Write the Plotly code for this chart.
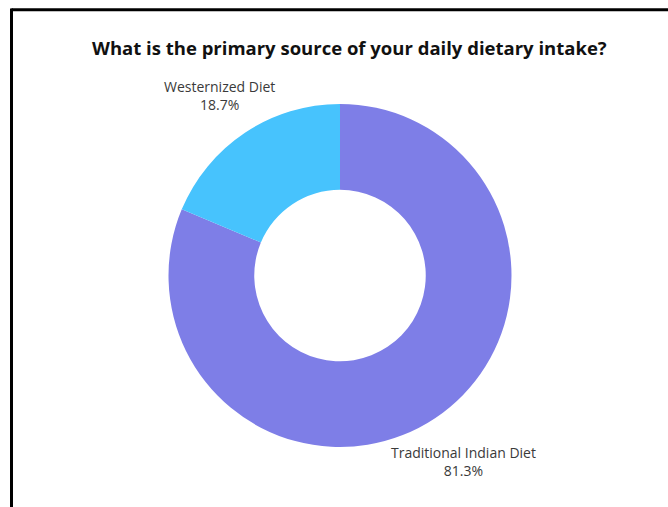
import plotly.graph_objects as go

W, H = 668, 507

title = "What is the primary source of your daily dietary intake?"
labels = ["Traditional Indian Diet", "Westernized Diet"]
values = [81.3, 18.7]
colors = ["#7E7EE7", "#47C3FD"]

# label anchor positions (pixels) for each slice's text
label_pos = [(463, 461), (219, 95)]

fig = go.Figure()
fig.add_trace(go.Pie(
    labels=labels,
    values=values,
    hole=0.5,
    sort=False,
    direction="clockwise",
    rotation=0,
    marker=dict(colors=colors, line=dict(width=0)),
    textinfo="none",
    hoverinfo="label+percent",
    showlegend=False,
    domain=dict(x=[(340 - 171.5) / W, (340 + 171.5) / W],
                y=[(H - 447) / H, (H - 104) / H]),
))

annotations = [dict(
    text="<b>" + title + "</b>",
    x=349 / W, y=1 - 47 / H, xref="paper", yref="paper",
    xanchor="center", yanchor="middle", showarrow=False,
    font=dict(family="Open Sans", size=18.5, color="#111111"),
)]
for lab, val, (px, py) in zip(labels, values, label_pos):
    annotations.append(dict(
        text=f"{lab}<br>{val:.1f}%",
        x=px / W, y=1 - py / H, xref="paper", yref="paper",
        xanchor="center", yanchor="middle", showarrow=False,
        font=dict(family="Open Sans", size=14, color="#3a3a3a"),
    ))

shapes = [
    dict(type="line", xref="paper", yref="paper",
         x0=11.5 / W, x1=1.0, y0=1 - 9.7 / H, y1=1 - 9.7 / H,
         line=dict(color="#000000", width=3)),
    dict(type="line", xref="paper", yref="paper",
         x0=11.5 / W, x1=11.5 / W, y0=0, y1=1 - 8.5 / H,
         line=dict(color="#000000", width=3)),
]

fig.update_layout(
    width=W, height=H,
    margin=dict(l=0, r=0, t=0, b=0),
    paper_bgcolor="white", plot_bgcolor="white",
    annotations=annotations, shapes=shapes,
)

fig.write_html("out.html")
